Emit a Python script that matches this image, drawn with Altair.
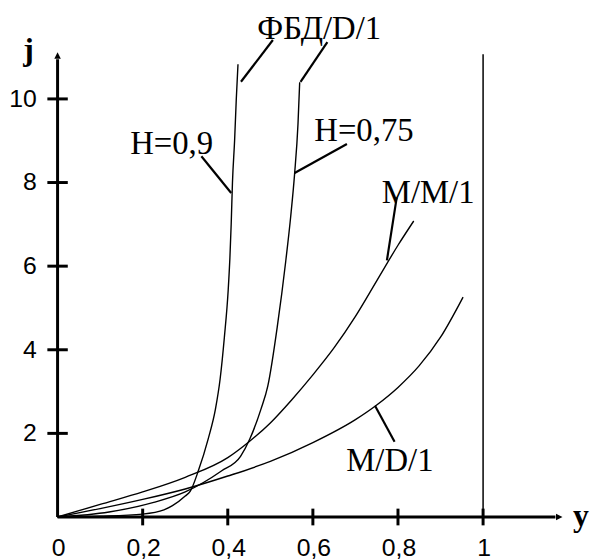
import altair as alt
import pandas as pd

# ---- data ----
h09_x = [0, 0.1, 0.2, 0.25, 0.27, 0.3, 0.312, 0.331, 0.354, 0.371, 0.382, 0.392, 0.401, 0.405, 0.408, 0.411, 0.416, 0.42, 0.424]
h09_j = [0, 0.02, 0.07, 0.17, 0.27, 0.5, 0.62, 1.11, 1.87, 2.58, 3.3, 4.3, 5.43, 6.2, 7.0, 8.0, 9.0, 10.0, 10.83]

h075_x = [0, 0.121, 0.226, 0.3, 0.385, 0.43, 0.452, 0.478, 0.494, 0.517, 0.536, 0.548, 0.557, 0.565, 0.569]
h075_j = [0, 0.12, 0.35, 0.6, 1.1, 1.45, 1.87, 2.58, 3.13, 4.6, 6.1, 7.2, 8.2, 9.4, 10.4]

mm1_x = [0, 0.1, 0.2, 0.3, 0.4, 0.45, 0.5, 0.55, 0.6, 0.65, 0.7, 0.75, 0.8, 0.837]
mm1_j = [0, 0.3, 0.6, 0.95, 1.42, 1.8, 2.25, 2.8, 3.4, 4.05, 4.8, 5.65, 6.5, 7.08]

md1_x = [0, 0.1, 0.2, 0.3, 0.4, 0.5, 0.6, 0.7, 0.75, 0.8, 0.85, 0.9, 0.953]
md1_j = [0, 0.2, 0.42, 0.67, 0.98, 1.33, 1.78, 2.33, 2.68, 3.1, 3.62, 4.3, 5.26]

x_ticks = [0.2, 0.4, 0.6, 0.8, 1.0]
x_tick_labels = ["0", "0,2", "0,4", "0,6", "0,8", "1"]
x_label_vals = [0, 0.2, 0.4, 0.6, 0.8, 1.0]
y_ticks = [2, 4, 6, 8, 10]
y_tick_labels = ["2", "4", "6", "8", "10"]

series_names = ["H=0,9", "H=0,75", "M/M/1", "M/D/1"]

# annotation labels: text, x, j
label_text = ["ФБД/D/1", "H=0,9", "H=0,75", "M/M/1", "M/D/1"]
label_x = [0.615, 0.268, 0.72, 0.871, 0.781]
label_j = [11.43, 8.68, 8.99, 7.52, 1.09]

# leader lines: from (x, j) to (x2, j2)
lead_x = [0.506, 0.634, 0.338, 0.680, 0.797, 0.792]
lead_j = [11.41, 11.36, 8.63, 8.92, 7.64, 1.80]
lead_x2 = [0.431, 0.571, 0.408, 0.557, 0.774, 0.746]
lead_j2 = [10.41, 10.41, 7.75, 8.23, 6.14, 2.66]

# ---- build tables ----
rows = []
for name, xs, js in zip(series_names, [h09_x, h075_x, mm1_x, md1_x], [h09_j, h075_j, mm1_j, md1_j]):
    for i, (a, b) in enumerate(zip(xs, js)):
        rows.append({"series": name, "x": a, "j": b, "o": i})
curves = pd.DataFrame(rows)

xscale = alt.Scale(domain=[0, 1.2], nice=False, zero=False)
yscale = alt.Scale(domain=[0, 12], nice=False, zero=False)
X = lambda f: alt.X(f, type="quantitative", scale=xscale, axis=None)
Y = lambda f: alt.Y(f, type="quantitative", scale=yscale, axis=None)

curve_layer = alt.Chart(curves).mark_line(color="black", strokeWidth=1.4, interpolate="monotone").encode(
    x=X("x"), y=Y("j"), detail="series:N", order="o:Q"
)

# axes
axes_df = pd.DataFrame({"x": [0, 0], "j": [0, 0], "x2": [0, 1.17], "j2": [10.95, 0]})
axes_layer = alt.Chart(axes_df).mark_rule(color="black", strokeWidth=3).encode(
    x=X("x"), y=Y("j"), x2="x2", y2="j2"
)

xt = pd.DataFrame({"x": x_ticks, "j": [-0.2] * len(x_ticks), "j2": [0.2] * len(x_ticks)})
xt_layer = alt.Chart(xt).mark_rule(color="black", strokeWidth=3).encode(x=X("x"), y=Y("j"), y2="j2")
yt = pd.DataFrame({"j": y_ticks, "x": [-0.024] * len(y_ticks), "x2": [0.024] * len(y_ticks)})
yt_layer = alt.Chart(yt).mark_rule(color="black", strokeWidth=3).encode(y=Y("j"), x=X("x"), x2="x2")

vline = pd.DataFrame({"x": [1.0], "j": [0], "j2": [11.07]})
vline_layer = alt.Chart(vline).mark_rule(color="black", strokeWidth=1.5).encode(x=X("x"), y=Y("j"), y2="j2")

arrow_up = alt.Chart(pd.DataFrame({"x": [0], "j": [11.04]})).mark_point(
    shape="M -0.5 0.5 L 0 -0.5 L 0.5 0.5 Z", filled=True, color="black", size=170, opacity=1
).encode(x=X("x"), y=Y("j"))
arrow_right = alt.Chart(pd.DataFrame({"x": [1.179], "j": [0]})).mark_point(
    shape="M -0.5 -0.5 L 0.5 0 L -0.5 0.5 Z", filled=True, color="black", size=170, opacity=1
).encode(x=X("x"), y=Y("j"))

# tick labels
xl = pd.DataFrame({"x": x_label_vals, "t": x_tick_labels, "j": [-0.74] * len(x_label_vals)})
xl_layer = alt.Chart(xl).mark_text(font="Liberation Sans", fontSize=25, align="center", baseline="middle", dx=1).encode(
    x=X("x"), y=Y("j"), text="t:N"
)
yl = pd.DataFrame({"j": y_ticks, "t": y_tick_labels, "x": [-0.049] * len(y_ticks)})
yl_layer = alt.Chart(yl).mark_text(font="Liberation Sans", fontSize=25, align="right", baseline="middle").encode(
    x=X("x"), y=Y("j"), text="t:N"
)

# axis names
names = pd.DataFrame({"x": [-0.068, 1.23], "j": [10.93, -0.21], "t": ["j", "y"]})
names_layer = alt.Chart(names).mark_text(font="Liberation Serif", fontSize=32, fontWeight="bold", align="center", baseline="alphabetic").encode(
    x=X("x"), y=Y("j"), text="t:N"
)

# annotation labels
lab = pd.DataFrame({"x": label_x, "j": label_j, "t": label_text})
lab_layer = alt.Chart(lab).mark_text(font="Liberation Serif", fontSize=33, align="center", baseline="alphabetic").encode(
    x=X("x"), y=Y("j"), text="t:N"
)

lead = pd.DataFrame({"x": lead_x, "j": lead_j, "x2": lead_x2, "j2": lead_j2})
lead_layer = alt.Chart(lead).mark_rule(color="black", strokeWidth=2.2).encode(
    x=X("x"), y=Y("j"), x2="x2", y2="j2"
)

chart = alt.layer(
    vline_layer, curve_layer, lead_layer, axes_layer, xt_layer, yt_layer,
    arrow_up, arrow_right, xl_layer, yl_layer, names_layer, lab_layer
).properties(
    width=515, height=506,
    background="white",
    autosize=alt.AutoSizeParams(type="none"),
    padding={"left": 50, "top": 5, "right": 22, "bottom": 41},
).configure_view(strokeWidth=0, stroke=None)

chart.save("out.html", embed_options={"renderer": "svg", "actions": False})
